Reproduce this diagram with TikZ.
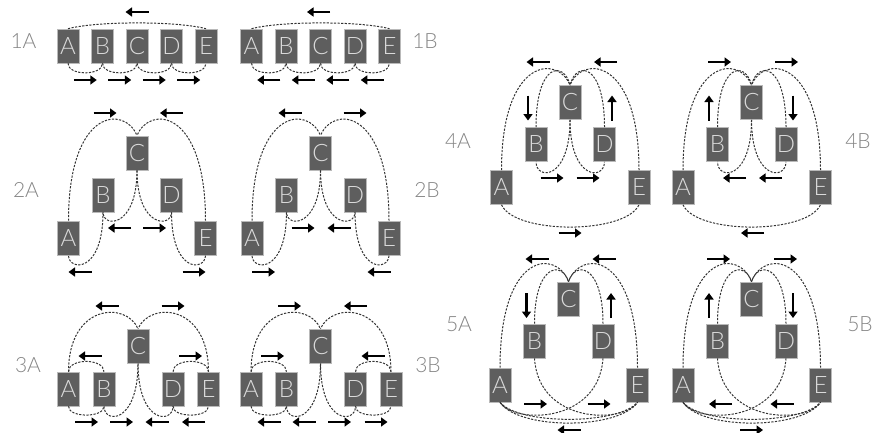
\documentclass[tikz,border=0pt]{standalone}
\usepackage{fontspec}
\setmainfont{Lato Light}
\usepackage{tikz}
\usetikzlibrary{arrows.meta}
\definecolor{boxgray}{HTML}{5E5E5E}
\definecolor{lettergray}{HTML}{DADADA}
\definecolor{taggray}{HTML}{858585}
\begin{document}
\begin{tikzpicture}[
    x=1pt, y=-1pt,
    box/.style={draw=gray!55, line width=0.6pt, fill=boxgray, text=lettergray, minimum width=22pt, minimum height=34pt, inner sep=0pt, font=\fontsize{24}{24}\selectfont},
    tag/.style={text=taggray, font=\fontsize{21}{21}\selectfont},
    route/.style={draw=black!80, line width=1pt, dash pattern=on 2.2pt off 1.4pt},
    dirarrow/.style={line width=2.8pt, -{Triangle[length=6.5pt,width=9pt]}},
]
\useasboundingbox (0,0) rectangle (877,432);

% panel labels
\node[tag] (lab1A) at (23.5,41) {1A};
\node[tag] (lab1B) at (425,41) {1B};
\node[tag] (lab2A) at (26,189.5) {2A};
\node[tag] (lab2B) at (427,189.5) {2B};
\node[tag] (lab3A) at (28,365) {3A};
\node[tag] (lab3B) at (428,365) {3B};
\node[tag] (lab4A) at (458,141.5) {4A};
\node[tag] (lab4B) at (858,141.5) {4B};
\node[tag] (lab5A) at (459,324.5) {5A};
\node[tag] (lab5B) at (860,324.5) {5B};

% 1A
\begin{scope}[shift={(137,46)}]
\node[box] (a1A) at (-69,0) {A};
\node[box] (b1A) at (-34.5,0) {B};
\node[box] (c1A) at (0,0) {C};
\node[box] (d1A) at (34.5,0) {D};
\node[box] (e1A) at (69,0) {E};
\draw[route] (a1A.north) .. controls (-40,-25) and (40,-25) .. (e1A.north);
\draw[route] (a1A.south) .. controls (-69,30) and (-34.5,30) .. (b1A.south);
\draw[route] (b1A.south) .. controls (-34.5,30) and (0,30) .. (c1A.south);
\draw[route] (c1A.south) .. controls (0,30) and (34.5,30) .. (d1A.south);
\draw[route] (d1A.south) .. controls (34.5,30) and (69,30) .. (e1A.south);
\draw[dirarrow] (11.5,-34) -- (-11.5,-34);
\draw[dirarrow] (-63.25,34) -- (-40.25,34);
\draw[dirarrow] (-28.75,34) -- (-5.75,34);
\draw[dirarrow] (5.75,34) -- (28.75,34);
\draw[dirarrow] (40.25,34) -- (63.25,34);
\end{scope}

% 1B
\begin{scope}[shift={(320.5,46)}]
\node[box] (a1B) at (-69,0) {A};
\node[box] (b1B) at (-34.5,0) {B};
\node[box] (c1B) at (0,0) {C};
\node[box] (d1B) at (34.5,0) {D};
\node[box] (e1B) at (69,0) {E};
\draw[route] (a1B.north) .. controls (-40,-25) and (40,-25) .. (e1B.north);
\draw[route] (a1B.south) .. controls (-69,30) and (-34.5,30) .. (b1B.south);
\draw[route] (b1B.south) .. controls (-34.5,30) and (0,30) .. (c1B.south);
\draw[route] (c1B.south) .. controls (0,30) and (34.5,30) .. (d1B.south);
\draw[route] (d1B.south) .. controls (34.5,30) and (69,30) .. (e1B.south);
\draw[dirarrow] (9.5,-34) -- (-13.5,-34);
\draw[dirarrow] (-40.25,34) -- (-63.25,34);
\draw[dirarrow] (-5.75,34) -- (-28.75,34);
\draw[dirarrow] (28.75,34) -- (5.75,34);
\draw[dirarrow] (63.25,34) -- (40.25,34);
\end{scope}

% 2A
\begin{scope}[shift={(137,153)}]
\node[box] (c2A) at (0,0) {C};
\node[box] (b2A) at (-34,42) {B};
\node[box] (d2A) at (34.5,42) {D};
\node[box] (a2A) at (-68.5,85) {A};
\node[box] (e2A) at (68.5,85) {E};
\draw[route] (a2A.north) .. controls (-68.5,-45) and (-12,-48) .. (c2A.north);
\draw[route] (e2A.north) .. controls (68.5,-45) and (12,-48) .. (c2A.north);
\draw[route] (c2A.south) .. controls (0,75) and (-34,75) .. (b2A.south);
\draw[route] (c2A.south) .. controls (0,75) and (34.5,75) .. (d2A.south);
\draw[route] (b2A.south) .. controls (-34,121) and (-68.5,118) .. (a2A.south);
\draw[route] (d2A.south) .. controls (34.5,121) and (68.5,118) .. (e2A.south);
\draw[dirarrow] (-43.5,-40) -- (-20.5,-40);
\draw[dirarrow] (46,-40) -- (23,-40);
\draw[dirarrow] (-6,75) -- (-29,75);
\draw[dirarrow] (6,75) -- (29,75);
\draw[dirarrow] (-45.5,119) -- (-68.5,119);
\draw[dirarrow] (45.5,119) -- (68.5,119);
\end{scope}

% 2B
\begin{scope}[shift={(320.5,153)}]
\node[box] (c2B) at (0,0) {C};
\node[box] (b2B) at (-34,42) {B};
\node[box] (d2B) at (34.5,42) {D};
\node[box] (a2B) at (-68.5,85) {A};
\node[box] (e2B) at (68.5,85) {E};
\draw[route] (a2B.north) .. controls (-68.5,-45) and (-12,-48) .. (c2B.north);
\draw[route] (e2B.north) .. controls (68.5,-45) and (12,-48) .. (c2B.north);
\draw[route] (c2B.south) .. controls (0,75) and (-34,75) .. (b2B.south);
\draw[route] (c2B.south) .. controls (0,75) and (34.5,75) .. (d2B.south);
\draw[route] (b2B.south) .. controls (-34,121) and (-68.5,118) .. (a2B.south);
\draw[route] (d2B.south) .. controls (34.5,121) and (68.5,118) .. (e2B.south);
\draw[dirarrow] (-19,-40) -- (-42,-40);
\draw[dirarrow] (23,-40) -- (46,-40);
\draw[dirarrow] (-29,75) -- (-6,75);
\draw[dirarrow] (30,75) -- (7,75);
\draw[dirarrow] (-68.5,119) -- (-45.5,119);
\draw[dirarrow] (70,119) -- (47,119);
\end{scope}

% 3A
\begin{scope}[shift={(138,346)}]
\node[box] (c3A) at (0,0) {C};
\node[box] (a3A) at (-69.5,43) {A};
\node[box] (b3A) at (-34,43) {B};
\node[box] (d3A) at (35,43) {D};
\node[box] (e3A) at (70.5,43) {E};
\draw[route] (a3A.north) .. controls (-69.5,-42) and (-12,-45) .. (c3A.north);
\draw[route] (e3A.north) .. controls (70.5,-42) and (12,-45) .. (c3A.north);
\draw[route] (a3A.north) .. controls (-69.5,12) and (-34,12) .. (b3A.north);
\draw[route] (d3A.north) .. controls (35,12) and (70.5,12) .. (e3A.north);
\draw[route] (a3A.south) .. controls (-69.5,72) and (-34,72) .. (b3A.south);
\draw[route] (b3A.south) .. controls (-34,78) and (0,78) .. (c3A.south);
\draw[route] (c3A.south) .. controls (0,78) and (35,78) .. (d3A.south);
\draw[route] (d3A.south) .. controls (35,72) and (70.5,72) .. (e3A.south);
\draw[dirarrow] (-19.5,-40) -- (-42.5,-40);
\draw[dirarrow] (23.5,-40) -- (46.5,-40);
\draw[dirarrow] (-36.5,10) -- (-59.5,10);
\draw[dirarrow] (41,10) -- (64,10);
\draw[dirarrow] (-63,76) -- (-40,76);
\draw[dirarrow] (-28,76) -- (-5,76);
\draw[dirarrow] (30.5,76) -- (7.5,76);
\draw[dirarrow] (67,76) -- (44,76);
\end{scope}

% 3B
\begin{scope}[shift={(320.5,346)}]
\node[box] (c3B) at (0,0) {C};
\node[box] (a3B) at (-69.5,43) {A};
\node[box] (b3B) at (-34,43) {B};
\node[box] (d3B) at (35,43) {D};
\node[box] (e3B) at (70.5,43) {E};
\draw[route] (a3B.north) .. controls (-69.5,-42) and (-12,-45) .. (c3B.north);
\draw[route] (e3B.north) .. controls (70.5,-42) and (12,-45) .. (c3B.north);
\draw[route] (a3B.north) .. controls (-69.5,12) and (-34,12) .. (b3B.north);
\draw[route] (d3B.north) .. controls (35,12) and (70.5,12) .. (e3B.north);
\draw[route] (a3B.south) .. controls (-69.5,72) and (-34,72) .. (b3B.south);
\draw[route] (b3B.south) .. controls (-34,78) and (0,78) .. (c3B.south);
\draw[route] (c3B.south) .. controls (0,78) and (35,78) .. (d3B.south);
\draw[route] (d3B.south) .. controls (35,72) and (70.5,72) .. (e3B.south);
\draw[dirarrow] (-42.5,-40) -- (-19.5,-40);
\draw[dirarrow] (46.5,-40) -- (23.5,-40);
\draw[dirarrow] (-59.5,10) -- (-36.5,10);
\draw[dirarrow] (64,10) -- (41,10);
\draw[dirarrow] (-40,76) -- (-63,76);
\draw[dirarrow] (-5,76) -- (-28,76);
\draw[dirarrow] (7.5,76) -- (30.5,76);
\draw[dirarrow] (44,76) -- (67,76);
\end{scope}

% 4A
\begin{scope}[shift={(570,102.5)}]
\node[box] (c4A) at (0,0) {C};
\node[box] (b4A) at (-34,42) {B};
\node[box] (d4A) at (34.5,42) {D};
\node[box] (a4A) at (-68.5,85) {A};
\node[box] (e4A) at (69,85) {E};
\draw[route] (a4A.north) .. controls (-68.5,-45) and (-12,-48) .. (c4A.north);
\draw[route] (e4A.north) .. controls (69,-45) and (12,-48) .. (c4A.north);
\draw[route] (b4A.north) .. controls (-34,-40) and (-6,-42) .. (c4A.north);
\draw[route] (d4A.north) .. controls (34.5,-40) and (6,-42) .. (c4A.north);
\draw[route] (c4A.south) .. controls (0,78) and (-34,78) .. (b4A.south);
\draw[route] (c4A.south) .. controls (0,78) and (34.5,78) .. (d4A.south);
\draw[route] (a4A.south) .. controls (-55,132) and (55,132) .. (e4A.south);
\draw[dirarrow] (-20.5,-40.5) -- (-43.5,-40.5);
\draw[dirarrow] (47,-40.5) -- (24,-40.5);
\draw[dirarrow] (-42,-7) -- (-42,18);
\draw[dirarrow] (42,18) -- (42,-7);
\draw[dirarrow] (-29.5,75.5) -- (-6.5,75.5);
\draw[dirarrow] (6.5,75.5) -- (29.5,75.5);
\draw[dirarrow] (-11.5,130.5) -- (11.5,130.5);
\end{scope}

% 4B
\begin{scope}[shift={(751.5,102.5)}]
\node[box] (c4B) at (0,0) {C};
\node[box] (b4B) at (-34,42) {B};
\node[box] (d4B) at (34.5,42) {D};
\node[box] (a4B) at (-68.5,85) {A};
\node[box] (e4B) at (69,85) {E};
\draw[route] (a4B.north) .. controls (-68.5,-45) and (-12,-48) .. (c4B.north);
\draw[route] (e4B.north) .. controls (69,-45) and (12,-48) .. (c4B.north);
\draw[route] (b4B.north) .. controls (-34,-40) and (-6,-42) .. (c4B.north);
\draw[route] (d4B.north) .. controls (34.5,-40) and (6,-42) .. (c4B.north);
\draw[route] (c4B.south) .. controls (0,78) and (-34,78) .. (b4B.south);
\draw[route] (c4B.south) .. controls (0,78) and (34.5,78) .. (d4B.south);
\draw[route] (a4B.south) .. controls (-55,132) and (55,132) .. (e4B.south);
\draw[dirarrow] (-43.5,-40.5) -- (-20.5,-40.5);
\draw[dirarrow] (23.5,-40.5) -- (46.5,-40.5);
\draw[dirarrow] (-42.5,18) -- (-42.5,-7);
\draw[dirarrow] (41.5,-7) -- (41.5,18);
\draw[dirarrow] (-5.5,75.5) -- (-28.5,75.5);
\draw[dirarrow] (30.5,75.5) -- (7.5,75.5);
\draw[dirarrow] (12.5,130.5) -- (-10.5,130.5);
\end{scope}

% 5A
\begin{scope}[shift={(568.5,299)}]
\node[box] (c5A) at (0,0) {C};
\node[box] (b5A) at (-34,42) {B};
\node[box] (d5A) at (34.5,42) {D};
\node[box] (a5A) at (-68.5,86) {A};
\node[box] (e5A) at (69,86) {E};
\draw[route] (a5A.north) .. controls (-68.5,-48) and (-12,-50) .. (c5A.north);
\draw[route] (e5A.north) .. controls (69,-48) and (12,-50) .. (c5A.north);
\draw[route] (b5A.north) .. controls (-34,-36) and (-6,-38) .. (c5A.north);
\draw[route] (d5A.north) .. controls (34.5,-36) and (6,-38) .. (c5A.north);
\draw[route] (b5A.south) .. controls (-30,125) and (55,125) .. (e5A.south);
\draw[route] (d5A.south) .. controls (30,125) and (-55,125) .. (a5A.south);
\draw[route] (a5A.south) .. controls (-50,126) and (50,126) .. (e5A.south);
\draw[route] (a5A.south) .. controls (-50,131) and (50,131) .. (e5A.south);
\draw[dirarrow] (-20,-40) -- (-43,-40);
\draw[dirarrow] (47,-40) -- (24,-40);
\draw[dirarrow] (-42,-6) -- (-42,19);
\draw[dirarrow] (42.5,19) -- (42.5,-6);
\draw[dirarrow] (-44.5,105) -- (-21.5,105);
\draw[dirarrow] (19,105) -- (42,105);
\draw[dirarrow] (12,131) -- (-11,131);
\end{scope}

% 5B
\begin{scope}[shift={(751.5,299)}]
\node[box] (c5B) at (0,0) {C};
\node[box] (b5B) at (-34,42) {B};
\node[box] (d5B) at (34.5,42) {D};
\node[box] (a5B) at (-68.5,86) {A};
\node[box] (e5B) at (69,86) {E};
\draw[route] (a5B.north) .. controls (-68.5,-48) and (-12,-50) .. (c5B.north);
\draw[route] (e5B.north) .. controls (69,-48) and (12,-50) .. (c5B.north);
\draw[route] (b5B.north) .. controls (-34,-36) and (-6,-38) .. (c5B.north);
\draw[route] (d5B.north) .. controls (34.5,-36) and (6,-38) .. (c5B.north);
\draw[route] (b5B.south) .. controls (-30,125) and (55,125) .. (e5B.south);
\draw[route] (d5B.south) .. controls (30,125) and (-55,125) .. (a5B.south);
\draw[route] (a5B.south) .. controls (-50,126) and (50,126) .. (e5B.south);
\draw[route] (a5B.south) .. controls (-50,131) and (50,131) .. (e5B.south);
\draw[dirarrow] (-44.5,-40) -- (-21.5,-40);
\draw[dirarrow] (22.5,-40) -- (45.5,-40);
\draw[dirarrow] (-42.5,19) -- (-42.5,-6);
\draw[dirarrow] (41.5,-6) -- (41.5,19);
\draw[dirarrow] (-19.5,105) -- (-42.5,105);
\draw[dirarrow] (42,105) -- (19,105);
\draw[dirarrow] (-11.5,131) -- (11.5,131);
\end{scope}
\end{tikzpicture}
\end{document}
